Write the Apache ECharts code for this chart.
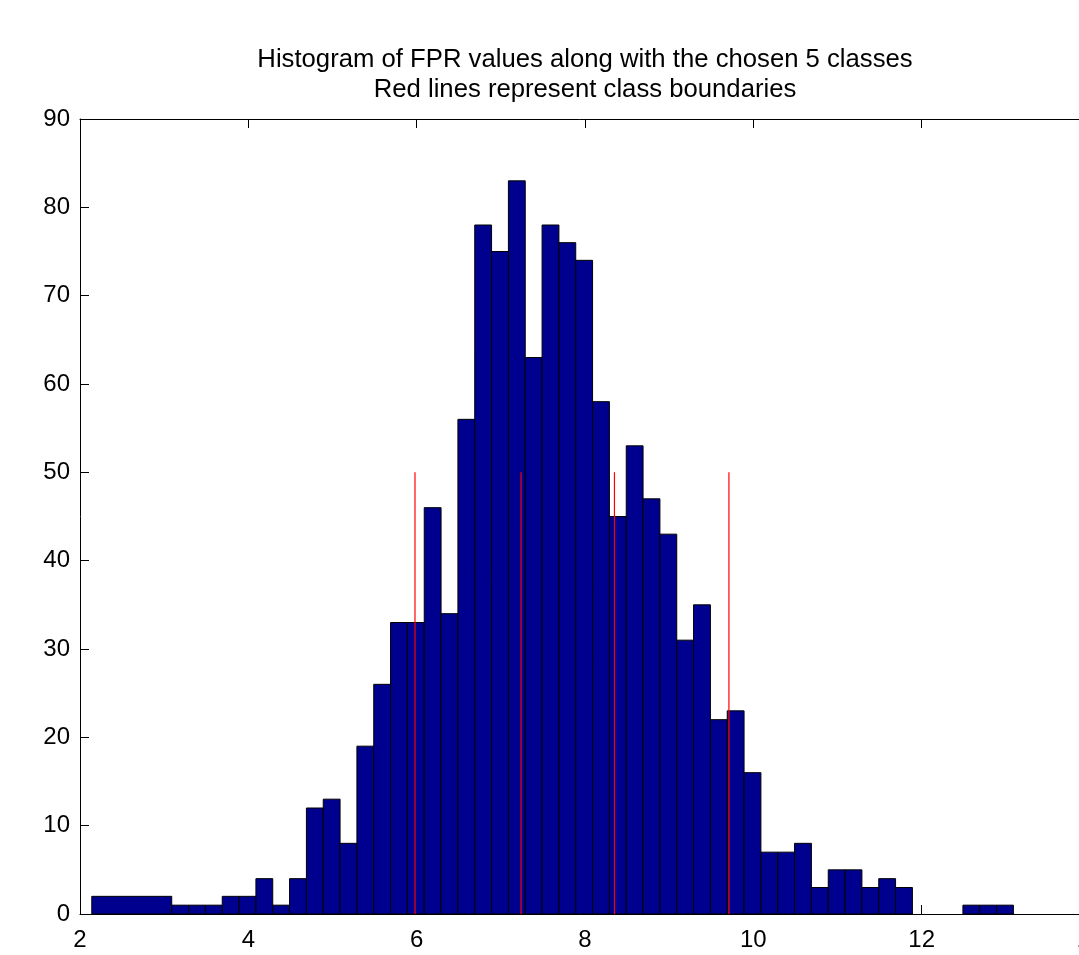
<!DOCTYPE html>
<html>
<head>
<meta charset="utf-8">
<script src="https://cdn.jsdelivr.net/npm/echarts@6/dist/echarts.min.js"></script>
<style>
  html, body { margin: 0; padding: 0; background: #ffffff; }
  #chart { width: 1079px; height: 955px; }
</style>
</head>
<body>
<div id="chart"></div>
<script>
// Histogram bin edges (FPR values) and the count in each bin
const binEdges = [2.14, 3.09, 3.29, 3.49, 3.69, 3.89, 4.09, 4.29, 4.49, 4.69,
  4.89, 5.09, 5.29, 5.49, 5.69, 5.89, 6.09, 6.29, 6.49, 6.69,
  6.89, 7.09, 7.29, 7.49, 7.69, 7.89, 8.09, 8.29, 8.49, 8.69,
  8.89, 9.09, 9.29, 9.49, 9.69, 9.89, 10.09, 10.29, 10.49, 10.69,
  10.89, 11.09, 11.29, 11.49, 11.69, 11.89, 12.09, 12.29, 12.49, 12.69,
  12.89, 13.09];
const counts = [2, 1, 1, 1, 2, 2, 4, 1, 4, 12,
  13, 8, 19, 26, 33, 33, 46, 34, 56, 78,
  75, 83, 63, 78, 76, 74, 58, 45, 53, 47,
  43, 31, 35, 22, 23, 16, 7, 7, 8, 3,
  5, 5, 3, 4, 3, 0, 0, 0, 1, 1,
  1];

// Class boundaries (red lines) and the height they are drawn to
const classBoundaries = [5.98, 7.24, 8.35, 9.71];
const boundaryHeight = [50, 50, 50, 50];

// Axis ranges and tick steps
const xRange = [2, 14];
const xStep = 2;
const yRange = [0, 90];
const yStep = 10;

const titleLines = [
  'Histogram of FPR values along with the chosen 5 classes',
  'Red lines represent class boundaries'
];

const FONT = '"Liberation Sans", Arial, Helvetica, sans-serif';

const bars = [];
for (let i = 0; i < counts.length; i++) {
  bars.push([binEdges[i], binEdges[i + 1], counts[i]]);
}
const lines = classBoundaries.map((b, i) => [b, boundaryHeight[i]]);

const axisLine = { show: true, onZero: false, lineStyle: { color: '#000', width: 1 } };
const tick = { show: true, inside: true, length: 9, lineStyle: { color: '#000', width: 1 } };
const label = { fontSize: 24, color: '#000', fontFamily: FONT };

const chart = echarts.init(document.getElementById('chart'), null, { renderer: 'canvas' });

chart.setOption({
  backgroundColor: '#ffffff',
  animation: false,
  // the axes box runs past the right edge of the canvas
  grid: { left: 80, top: 119, width: 1010, height: 795, containLabel: false, outerBoundsMode: 'none' },
  graphic: [
    {
      type: 'text', x: 585, y: 60, z: 100,
      style: { text: titleLines[0], font: '25.7px ' + FONT, fill: '#000',
               textAlign: 'center', textVerticalAlign: 'middle' }
    },
    {
      type: 'text', x: 585, y: 89.5, z: 100,
      style: { text: titleLines[1], font: '25.7px ' + FONT, fill: '#000',
               textAlign: 'center', textVerticalAlign: 'middle' }
    }
  ],
  xAxis: [
    {
      type: 'value', position: 'bottom', min: xRange[0], max: xRange[1], interval: xStep,
      axisLine: axisLine, axisTick: tick,
      axisLabel: Object.assign({ margin: 14, showMaxLabel: true, showMinLabel: true }, label),
      splitLine: { show: false }
    },
    {
      type: 'value', position: 'top', min: xRange[0], max: xRange[1], interval: xStep,
      axisLine: axisLine, axisTick: tick, axisLabel: { show: false },
      splitLine: { show: false }
    }
  ],
  yAxis: [
    {
      type: 'value', position: 'left', min: yRange[0], max: yRange[1], interval: yStep,
      axisLine: axisLine, axisTick: tick,
      axisLabel: Object.assign({ margin: 10 }, label),
      splitLine: { show: false }
    },
    {
      type: 'value', position: 'right', min: yRange[0], max: yRange[1], interval: yStep,
      axisLine: axisLine, axisTick: tick, axisLabel: { show: false },
      splitLine: { show: false }
    }
  ],
  series: [
    {
      type: 'custom',
      name: 'FPR histogram',
      xAxisIndex: 0, yAxisIndex: 0,
      encode: { x: [0, 1], y: 2 },
      data: bars,
      z: 2,
      renderItem: function (params, api) {
        const c = api.value(2);
        if (!c) return null;
        const p0 = api.coord([api.value(0), c]);
        const p1 = api.coord([api.value(1), 0]);
        return {
          type: 'rect',
          shape: { x: p0[0], y: p0[1], width: p1[0] - p0[0], height: p1[1] - p0[1] },
          style: { fill: '#00008f', stroke: '#000000', lineWidth: 1 }
        };
      }
    },
    {
      type: 'custom',
      name: 'Class boundaries',
      xAxisIndex: 0, yAxisIndex: 0,
      encode: { x: 0, y: 1 },
      data: lines,
      z: 5,
      renderItem: function (params, api) {
        const top = api.coord([api.value(0), api.value(1)]);
        const bottom = api.coord([api.value(0), 0]);
        return {
          type: 'line',
          shape: { x1: top[0], y1: top[1], x2: bottom[0], y2: bottom[1] },
          style: { stroke: '#ff0000', lineWidth: 1.2 }
        };
      }
    }
  ]
});
</script>
</body>
</html>
